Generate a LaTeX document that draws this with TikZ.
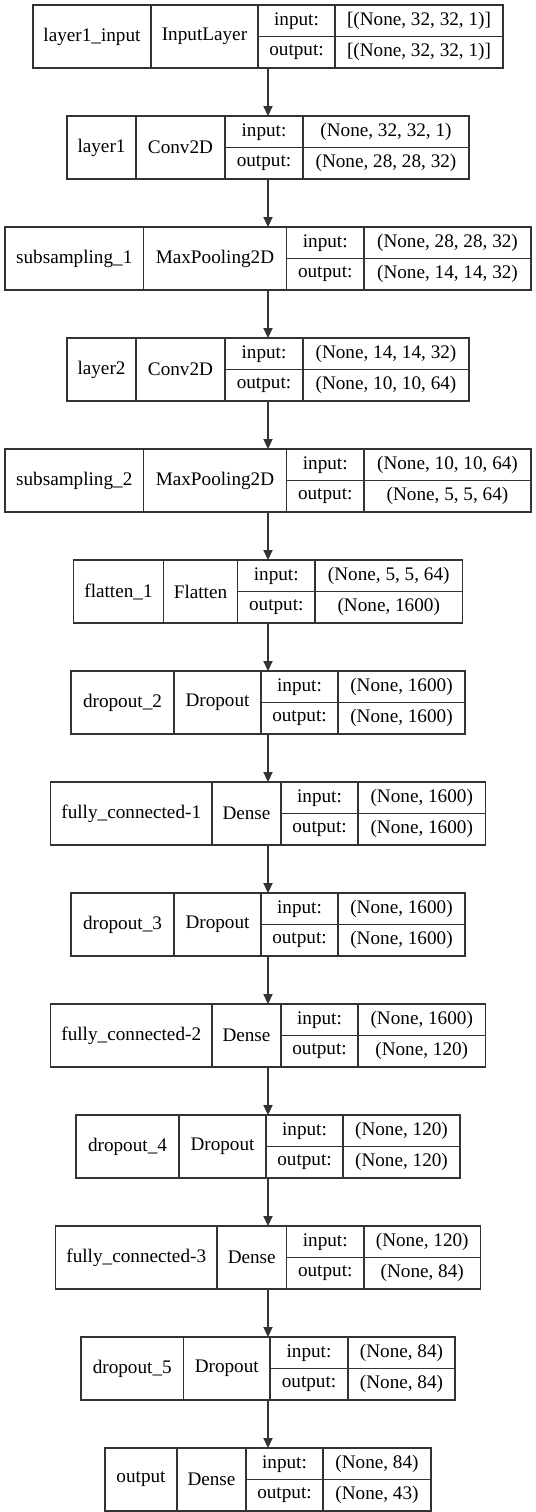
\documentclass[tikz,border=0pt]{standalone}
\usepackage{fontspec}
\setmainfont{Liberation Serif}
\usetikzlibrary{arrows.meta}

\tikzset{
	cell/.style={draw=black!80,line width=0.65pt},
	txt/.style={inner sep=0pt,font=\fontsize{9.6}{11}\selectfont},
	flow/.style={draw=black!80,line width=0.65pt,-{Triangle[length=5pt,width=4.6pt]}}
}

% #1 row, #2-#5 cell borders, #6 layer, #7 class, #8 input, #9 output
\newcommand{\layerbox}[9]{%
	\pgfmathsetmacro{\yt}{5+111*#1}
	\pgfmathsetmacro{\yb}{\yt+63}
	\pgfmathsetmacro{\ym}{\yt+31.5}
	\pgfmathsetmacro{\xr}{536-#2}
	\pgfmathsetmacro{\bw}{(536-2*#2)*0.5}
	\node[cell,inner sep=0pt,outer sep=0pt,minimum width=\bw pt,minimum height=31.5pt]
	(L#1) at (268,\ym) {};
	\draw[cell] (#3,\yt) -- (#3,\yb) (#4,\yt) -- (#4,\yb) (#5,\yt) -- (#5,\yb)
	(#4,\ym) -- (\xr,\ym);
	\node[txt] (name#1) at ({(#2+#3)/2},\ym) {#6};
	\node[txt] (class#1) at ({(#3+#4)/2},\ym) {#7};
	\node[txt] (inl#1) at ({(#4+#5)/2},\yt+15.75) {input:};
	\node[txt] (outl#1) at ({(#4+#5)/2},\yt+47.25) {output:};
	\node[txt] (inv#1) at ({(#5+\xr)/2},\yt+15.75) {#8};
	\node[txt] (outv#1) at ({(#5+\xr)/2},\yt+47.25) {#9};
}

\begin{document}
\begin{tikzpicture}[x=0.5pt,y=-0.5pt]
	\useasboundingbox (0,0) rectangle (536,1512);

	\layerbox{0}{33}{151}{258}{335}{layer1\_input}{InputLayer}{[(None, 32, 32, 1)]}{[(None, 32, 32, 1)]}
	\layerbox{1}{67}{136}{225}{303}{layer1}{Conv2D}{(None, 32, 32, 1)}{(None, 28, 28, 32)}
	\layerbox{2}{5}{143.5}{286.5}{364}{subsampling\_1}{MaxPooling2D}{(None, 28, 28, 32)}{(None, 14, 14, 32)}
	\layerbox{3}{67}{136}{225}{303}{layer2}{Conv2D}{(None, 14, 14, 32)}{(None, 10, 10, 64)}
	\layerbox{4}{5}{143.5}{286.5}{364}{subsampling\_2}{MaxPooling2D}{(None, 10, 10, 64)}{(None, 5, 5, 64)}
	\layerbox{5}{73.5}{163.5}{237.5}{315}{flatten\_1}{Flatten}{(None, 5, 5, 64)}{(None, 1600)}
	\layerbox{6}{71}{174}{261}{338}{dropout\_2}{Dropout}{(None, 1600)}{(None, 1600)}
	\layerbox{7}{50.5}{212}{281}{358}{fully\_connected-1}{Dense}{(None, 1600)}{(None, 1600)}
	\layerbox{8}{71}{174}{261}{338}{dropout\_3}{Dropout}{(None, 1600)}{(None, 1600)}
	\layerbox{9}{50.5}{212}{281}{358}{fully\_connected-2}{Dense}{(None, 1600)}{(None, 120)}
	\layerbox{10}{76}{179}{266}{343}{dropout\_4}{Dropout}{(None, 120)}{(None, 120)}
	\layerbox{11}{55.5}{217}{286.5}{364}{fully\_connected-3}{Dense}{(None, 120)}{(None, 84)}
	\layerbox{12}{81}{183.5}{270}{348}{dropout\_5}{Dropout}{(None, 84)}{(None, 84)}
	\layerbox{13}{105}{177}{246}{323}{output}{Dense}{(None, 84)}{(None, 43)}

	% connectors
	\foreach \i [evaluate=\i as \j using int(\i+1)] in {0,...,12}
	\draw[flow] (L\i) -- (L\j);

\end{tikzpicture}
\end{document}
